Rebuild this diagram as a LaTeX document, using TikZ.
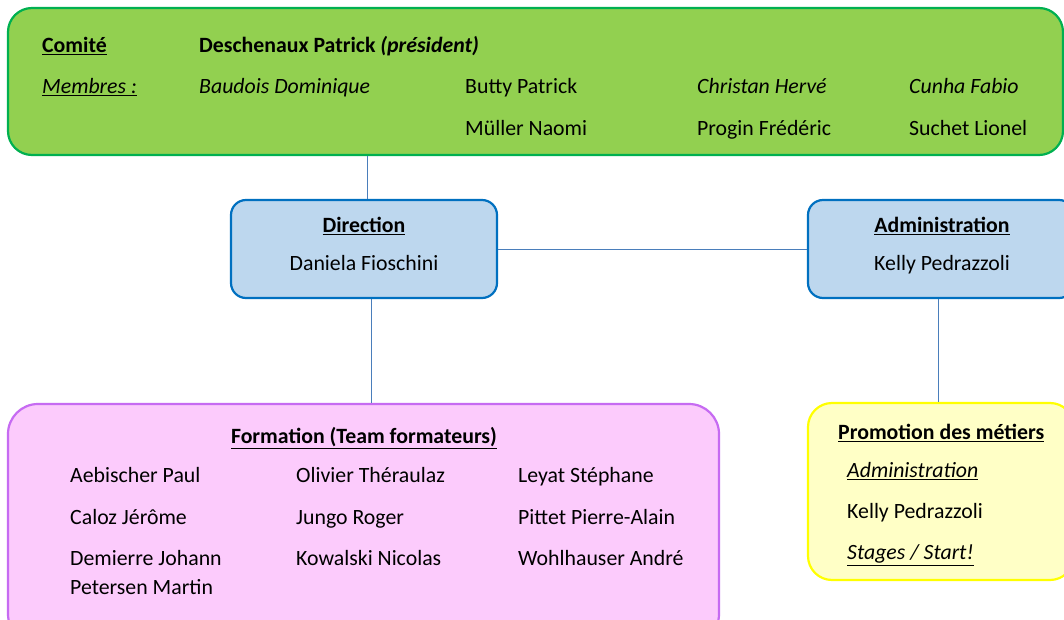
\documentclass[tikz,border=0pt]{standalone}
\usepackage{fontspec}
\setmainfont{Carlito}
\begin{document}
\begin{tikzpicture}[x=1pt,y=-1pt,
  every node/.style={font=\fontsize{21.8}{26}\selectfont, inner sep=0pt},
  box/.style={draw, line width=2.2pt, inner sep=0pt},
  greenbox/.style={box, fill=gfill, draw=gline, rounded corners=24pt},
  bluebox/.style={box, fill=bfill, draw=bline, rounded corners=15pt},
  pinkbox/.style={box, fill=pfill, draw=pline, rounded corners=30pt},
  yellowbox/.style={box, fill=yfill, draw=yline, rounded corners=24pt},
  conn/.style={draw=cline, line width=1pt},
  txt/.style={anchor=mid west, yshift=-5.5pt},
  ctxt/.style={anchor=mid, yshift=-5.5pt}
]
\definecolor{gfill}{HTML}{92D050}
\definecolor{gline}{HTML}{00B050}
\definecolor{bfill}{HTML}{BDD7EE}
\definecolor{bline}{HTML}{0070C0}
\definecolor{pfill}{HTML}{FCCBFC}
\definecolor{pline}{HTML}{C66BF2}
\definecolor{yfill}{HTML}{FFFFC6}
\definecolor{yline}{HTML}{FFFF00}
\definecolor{cline}{HTML}{4A7EBB}
\useasboundingbox (0,0) rectangle (1064,620);
\clip (0,0) rectangle (1064,620);
\fill[white] (0,0) rectangle (1064,620);

% boxes
\node[greenbox, minimum width=1055pt, minimum height=147pt] (comite) at (535.5,81.5) {};
\node[bluebox, minimum width=266pt, minimum height=98pt] (dir) at (364,249) {};
\node[bluebox, minimum width=266pt, minimum height=98pt] (adm) at (941,249) {};
\node[pinkbox, minimum width=711pt, minimum height=240pt] (form) at (363.5,524) {};
\node[yellowbox, minimum width=266pt, minimum height=177pt] (promo) at (941,491.5) {};

% connectors
\coordinate (c1) at (367,0);
\coordinate (c2) at (371,0);
\coordinate (c3) at (938,0);
\draw[conn] (comite.south -| c1) -- (dir.north -| c1);
\draw[conn] (dir.east) -- (adm.west);
\draw[conn] (dir.south -| c2) -- (form.north -| c2);
\draw[conn] (adm.south -| c3) -- (promo.north -| c3);

% comite text
\node[txt] (t1) at (42,45) {\textbf{\underline{Comité}}};
\node[txt] (t2) at (199,45) {\textbf{Deschenaux Patrick \textit{(président)}}};
\node[txt] (t3) at (42,86) {\textit{\underline{Membres :}}};
\node[txt] (t4) at (199,86) {\textit{Baudois Dominique}};
\node[txt] (t5) at (465,86) {Butty Patrick};
\node[txt] (t6) at (697,86) {\textit{Christan Hervé}};
\node[txt] (t7) at (909,86) {\textit{Cunha Fabio}};
\node[txt] (t8) at (465,128) {Müller Naomi};
\node[txt] (t9) at (697,128) {Progin Frédéric};
\node[txt] (t10) at (909,128) {Suchet Lionel};

% direction / administration
\node[ctxt] (d1) at (364,225) {\textbf{\underline{Direction}}};
\node[ctxt] (d2) at (364,263) {Daniela Fioschini};
\node[ctxt] (a1) at (942,225) {\textbf{\underline{Administration}}};
\node[ctxt] (a2) at (942,263) {Kelly Pedrazzoli};

% formation
\node[ctxt] (f0) at (364,436) {\textbf{\underline{Formation (Team formateurs)}}};
\node[txt] (f1) at (70,475) {Aebischer Paul};
\node[txt] (f2) at (70,517) {Caloz Jérôme};
\node[txt] (f3) at (70,558) {Demierre Johann};
\node[txt] (f4) at (70,587) {Petersen Martin};
\node[txt] (f5) at (296,475) {Olivier Théraulaz};
\node[txt] (f6) at (296,517) {Jungo Roger};
\node[txt] (f7) at (296,558) {Kowalski Nicolas};
\node[txt] (f8) at (518,475) {Leyat Stéphane};
\node[txt] (f9) at (518,517) {Pittet Pierre-Alain};
\node[txt] (f10) at (518,558) {Wohlhauser André};

% promotion
\node[txt] (p1) at (838,432) {\textbf{\underline{Promotion des métiers}}};
\node[txt] (p2) at (847,470) {\textit{\underline{Administration}}};
\node[txt] (p3) at (847,511) {Kelly Pedrazzoli};
\node[txt] (p4) at (847,552) {\textit{\underline{Stages / Start!}}};
\end{tikzpicture}
\end{document}
